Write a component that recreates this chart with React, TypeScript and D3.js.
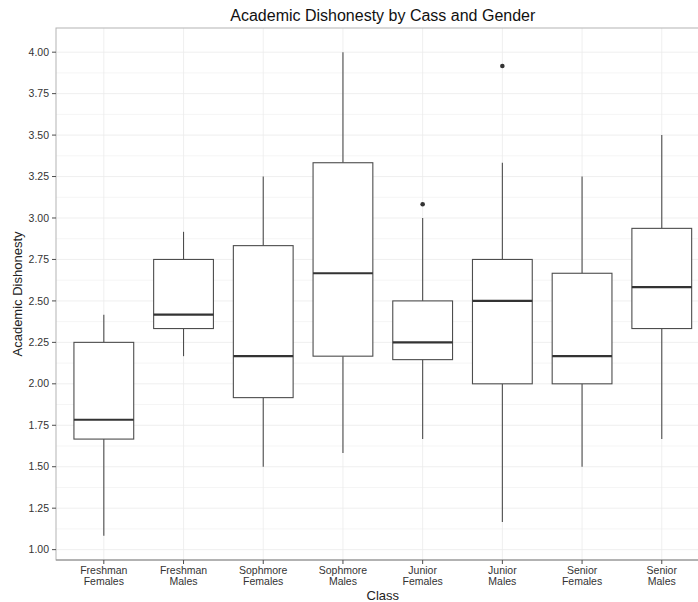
import { useEffect, useRef } from 'react';
import * as d3 from 'd3';

// Five-number summaries (whisker ends, hinges, median)
const classes = [
  ['Freshman', 'Females'],
  ['Freshman', 'Males'],
  ['Sophmore', 'Females'],
  ['Sophmore', 'Males'],
  ['Junior', 'Females'],
  ['Junior', 'Males'],
  ['Senior', 'Females'],
  ['Senior', 'Males'],
];
const lowerWhisker = [1.0833, 2.1667, 1.5, 1.5833, 1.6667, 1.1667, 1.5, 1.6667];
const q1 = [1.6667, 2.3333, 1.9167, 2.1667, 2.1458, 2.0, 2.0, 2.3333];
const median = [1.7833, 2.4167, 2.1667, 2.6667, 2.25, 2.5, 2.1667, 2.5833];
const q3 = [2.25, 2.75, 2.8333, 3.3333, 2.5, 2.75, 2.6667, 2.9375];
const upperWhisker = [2.4167, 2.9167, 3.25, 4.0, 3.0, 3.3333, 3.25, 3.5];
const outliers = [[], [], [], [], [3.0833], [3.9167], [], []];

const yTicks = [1.0, 1.25, 1.5, 1.75, 2.0, 2.25, 2.5, 2.75, 3.0, 3.25, 3.5, 3.75, 4.0];

const BoxChart = () => {
  const svgRef = useRef<SVGSVGElement>(null);

  useEffect(() => {
    const root = d3.select(svgRef.current);
    root.selectAll('*').remove();

    const width = 698;
    const height = 602;
    const panel = { left: 56, right: 709.6, top: 28, bottom: 560 };
    const font = '"Liberation Sans", Arial, sans-serif';

    const svg = root.attr('width', width).attr('height', height).style('display', 'block');

    const keys = classes.map((c) => c.join(' '));
    const step = (panel.right - panel.left) / 8.2;
    const x = d3
      .scalePoint<string>()
      .domain(keys)
      .range([panel.left + 0.6 * step, panel.right - 0.6 * step]);

    const dataMin = d3.min(lowerWhisker) as number;
    const dataMax = d3.max(upperWhisker) as number;
    const pad = (dataMax - dataMin) * 0.05;
    const y = d3
      .scaleLinear()
      .domain([dataMin - pad, dataMax + pad])
      .range([panel.bottom, panel.top]);

    // Panel background
    svg
      .append('rect')
      .attr('x', panel.left)
      .attr('y', panel.top)
      .attr('width', panel.right - panel.left)
      .attr('height', panel.bottom - panel.top)
      .attr('fill', '#fff');

    // Minor grid
    const minor = yTicks.slice(0, -1).map((t) => t + 0.125);
    svg
      .append('g')
      .selectAll('line')
      .data(minor)
      .enter()
      .append('line')
      .attr('x1', panel.left)
      .attr('x2', panel.right)
      .attr('y1', (d) => y(d))
      .attr('y2', (d) => y(d))
      .attr('stroke', '#f5f5f5')
      .attr('stroke-width', 1);

    // Major grid
    const grid = svg.append('g').attr('stroke', '#ebebeb').attr('stroke-width', 0.8);
    grid
      .selectAll('.gy')
      .data(yTicks)
      .enter()
      .append('line')
      .attr('x1', panel.left)
      .attr('x2', panel.right)
      .attr('y1', (d) => y(d))
      .attr('y2', (d) => y(d));
    grid
      .selectAll('.gx')
      .data(keys)
      .enter()
      .append('line')
      .attr('x1', (d) => x(d) as number)
      .attr('x2', (d) => x(d) as number)
      .attr('y1', panel.top)
      .attr('y2', panel.bottom);

    // Boxes
    const boxW = step * 0.75;
    const stroke = '#4d4d4d';
    const boxes = svg
      .append('g')
      .selectAll('g')
      .data(keys)
      .enter()
      .append('g');

    boxes
      .append('line')
      .attr('x1', (d) => x(d) as number)
      .attr('x2', (d) => x(d) as number)
      .attr('y1', (d, i) => y(upperWhisker[i]))
      .attr('y2', (d, i) => y(q3[i]))
      .attr('stroke', stroke)
      .attr('stroke-width', 1.1);
    boxes
      .append('line')
      .attr('x1', (d) => x(d) as number)
      .attr('x2', (d) => x(d) as number)
      .attr('y1', (d, i) => y(q1[i]))
      .attr('y2', (d, i) => y(lowerWhisker[i]))
      .attr('stroke', stroke)
      .attr('stroke-width', 1.1);
    boxes
      .append('rect')
      .attr('x', (d) => (x(d) as number) - boxW / 2)
      .attr('width', boxW)
      .attr('y', (d, i) => y(q3[i]))
      .attr('height', (d, i) => y(q1[i]) - y(q3[i]))
      .attr('fill', '#fff')
      .attr('stroke', stroke)
      .attr('stroke-width', 1.1);
    boxes
      .append('line')
      .attr('x1', (d) => (x(d) as number) - boxW / 2)
      .attr('x2', (d) => (x(d) as number) + boxW / 2)
      .attr('y1', (d, i) => y(median[i]))
      .attr('y2', (d, i) => y(median[i]))
      .attr('stroke', '#333')
      .attr('stroke-width', 2.2);

    // Outliers
    boxes.each(function (d, i) {
      d3.select(this)
        .selectAll('circle')
        .data(outliers[i])
        .enter()
        .append('circle')
        .attr('cx', x(d) as number)
        .attr('cy', (v) => y(v))
        .attr('r', 2.3)
        .attr('fill', '#333');
    });

    // Panel border
    svg
      .append('rect')
      .attr('x', panel.left)
      .attr('y', panel.top)
      .attr('width', panel.right - panel.left)
      .attr('height', panel.bottom - panel.top)
      .attr('fill', 'none')
      .attr('stroke', '#b3b3b3')
      .attr('stroke-width', 1);
    svg
      .append('line')
      .attr('x1', panel.left)
      .attr('x2', panel.right)
      .attr('y1', panel.bottom)
      .attr('y2', panel.bottom)
      .attr('stroke', '#8c8c8c');

    // Y axis ticks and labels
    const yAxis = svg.append('g');
    yAxis
      .selectAll('line')
      .data(yTicks)
      .enter()
      .append('line')
      .attr('x1', panel.left - 4)
      .attr('x2', panel.left)
      .attr('y1', (d) => y(d))
      .attr('y2', (d) => y(d))
      .attr('stroke', '#4d4d4d');
    yAxis
      .selectAll('text')
      .data(yTicks)
      .enter()
      .append('text')
      .attr('x', panel.left - 7)
      .attr('y', (d) => y(d))
      .attr('dy', '0.35em')
      .attr('text-anchor', 'end')
      .attr('font-family', font)
      .attr('font-size', 10.5)
      .attr('fill', '#333')
      .text((d) => d3.format('.2f')(d));

    // X axis ticks and labels
    const xAxis = svg.append('g');
    xAxis
      .selectAll('line')
      .data(keys)
      .enter()
      .append('line')
      .attr('x1', (d) => x(d) as number)
      .attr('x2', (d) => x(d) as number)
      .attr('y1', panel.bottom)
      .attr('y2', panel.bottom + 4)
      .attr('stroke', '#4d4d4d');
    const labels = xAxis
      .selectAll('text')
      .data(classes)
      .enter()
      .append('text')
      .attr('text-anchor', 'middle')
      .attr('font-family', font)
      .attr('font-size', 10.5)
      .attr('fill', '#333');
    labels
      .append('tspan')
      .attr('x', (d) => x(d.join(' ')) as number)
      .attr('y', 574)
      .text((d) => d[0]);
    labels
      .append('tspan')
      .attr('x', (d) => x(d.join(' ')) as number)
      .attr('y', 585)
      .text((d) => d[1]);

    // Titles
    const cx = (panel.left + panel.right) / 2;
    svg
      .append('text')
      .attr('x', cx)
      .attr('y', 600)
      .attr('text-anchor', 'middle')
      .attr('font-family', font)
      .attr('font-size', 13)
      .attr('fill', '#222')
      .text('Class');
    svg
      .append('text')
      .attr('transform', `translate(22,${(panel.top + panel.bottom) / 2}) rotate(-90)`)
      .attr('text-anchor', 'middle')
      .attr('font-family', font)
      .attr('font-size', 13)
      .attr('fill', '#222')
      .text('Academic Dishonesty');
    svg
      .append('text')
      .attr('x', cx)
      .attr('y', 21)
      .attr('text-anchor', 'middle')
      .attr('font-family', font)
      .attr('font-size', 16)
      .attr('fill', '#111')
      .text('Academic Dishonesty by Cass and Gender');
  }, []);

  return <svg ref={svgRef}></svg>;
};

export default function App() {
  return (
    <div
      style={{
        position: 'fixed',
        left: 0,
        top: 0,
        width: 698,
        height: 602,
        overflow: 'hidden',
        background: '#fff',
      }}
    >
      <BoxChart />
    </div>
  );
}
